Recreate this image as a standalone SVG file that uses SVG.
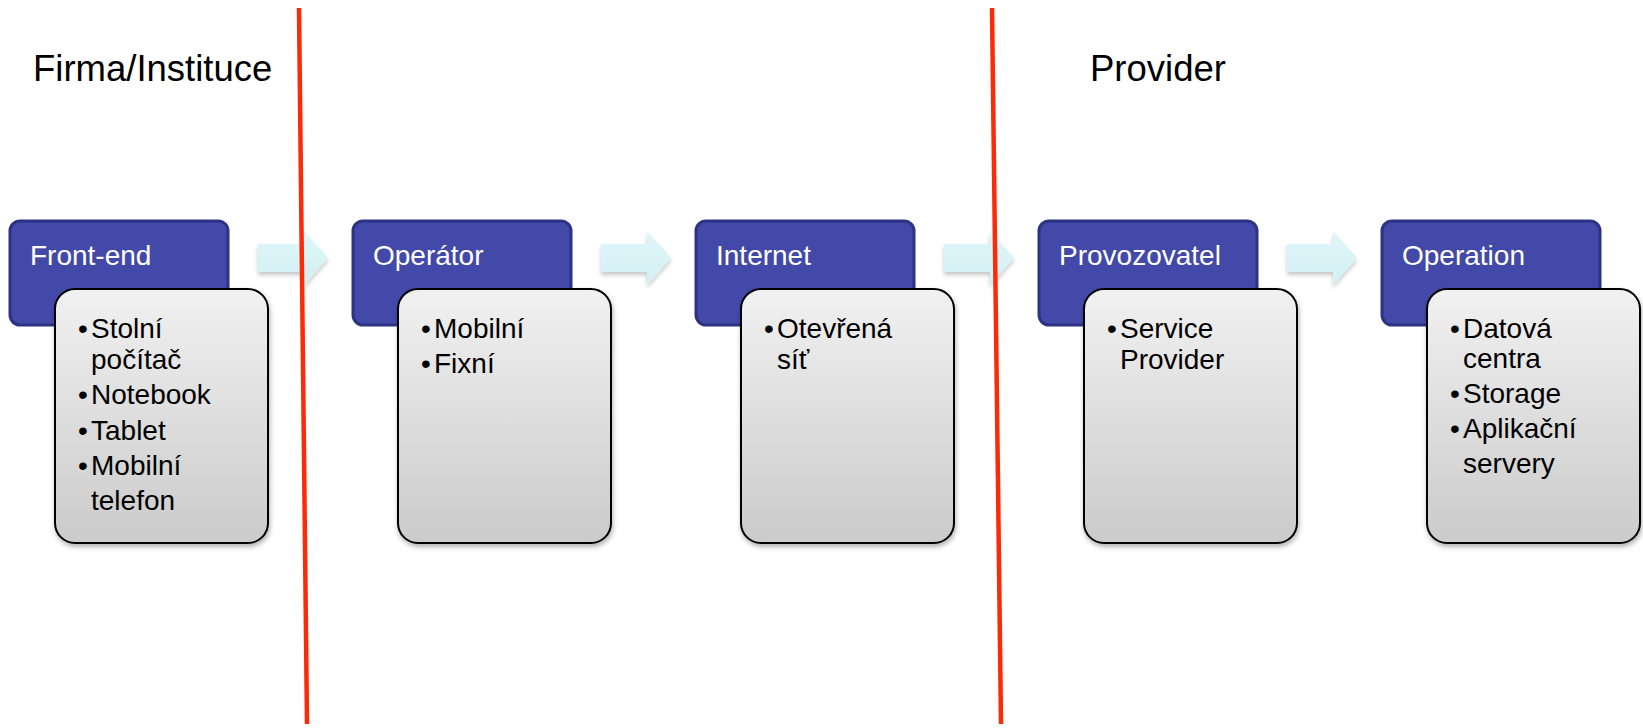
<svg xmlns="http://www.w3.org/2000/svg" width="1643" height="728" viewBox="0 0 1643 728">
<defs>
<linearGradient id="gray" x1="0" y1="0" x2="0" y2="1">
<stop offset="0" stop-color="#f1f1f1"/>
<stop offset="1" stop-color="#cbcbcb"/>
</linearGradient>
<linearGradient id="cyan" x1="0" y1="0" x2="0" y2="1">
<stop offset="0" stop-color="#dff6f9"/>
<stop offset="1" stop-color="#d3f0f4"/>
</linearGradient>
<filter id="sh" x="-20%" y="-20%" width="140%" height="140%">
<feDropShadow dx="1" dy="3" stdDeviation="2.5" flood-color="#000" flood-opacity="0.3"/>
</filter>
<filter id="ash" x="-20%" y="-30%" width="140%" height="160%">
<feDropShadow dx="0" dy="3" stdDeviation="2" flood-color="#000" flood-opacity="0.22"/>
</filter>
<path id="arr" d="M0,244 H46 V231 L70,258 L46,285 V272 H0 Z"/>
</defs>
<style>
.blue{fill:#4349a8;stroke:#2c3284;stroke-width:3}
.gray{fill:url(#gray);stroke:#000;stroke-width:2;filter:url(#sh)}
.bt{font-family:"Liberation Sans",Arial,sans-serif;font-size:28px;fill:#fff}
.gt{font-family:"Liberation Sans",Arial,sans-serif;font-size:28px;fill:#000}
.title{font-family:"Liberation Sans",Arial,sans-serif;font-size:36.5px;fill:#000}
.arrow{fill:url(#cyan);filter:url(#ash)}
.sep{stroke:#fd2a07;stroke-width:4.5;stroke-linecap:butt}
</style>
<rect width="1643" height="728" fill="#fff"/>
<text class="title" x="33" y="81">Firma/Instituce</text>
<text class="title" x="1090" y="81">Provider</text>

<g id="connectors">
<use href="#arr" class="arrow" x="258"/>
<use href="#arr" class="arrow" x="601"/>
<use href="#arr" class="arrow" x="944"/>
<use href="#arr" class="arrow" x="1287"/>
</g>

<g id="node-frontend">
<rect class="blue" x="10" y="221" width="218" height="104" rx="10"/>
<text class="bt" x="30" y="265">Front-end</text>
<rect class="gray" x="55" y="289" width="213" height="254" rx="20"/>
<text class="gt" x="78" y="338">•</text><text class="gt" x="91" y="338">Stolní</text>
<text class="gt" x="91" y="369">počítač</text>
<text class="gt" x="78" y="404">•</text><text class="gt" x="91" y="404">Notebook</text>
<text class="gt" x="78" y="440">•</text><text class="gt" x="91" y="440">Tablet</text>
<text class="gt" x="78" y="475">•</text><text class="gt" x="91" y="475">Mobilní</text>
<text class="gt" x="91" y="510">telefon</text>
</g>

<g id="node-operator">
<rect class="blue" x="353" y="221" width="218" height="104" rx="10"/>
<text class="bt" x="373" y="265">Operátor</text>
<rect class="gray" x="398" y="289" width="213" height="254" rx="20"/>
<text class="gt" x="421" y="338">•</text><text class="gt" x="434" y="338">Mobilní</text>
<text class="gt" x="421" y="373">•</text><text class="gt" x="434" y="373">Fixní</text>
</g>

<g id="node-internet">
<rect class="blue" x="696" y="221" width="218" height="104" rx="10"/>
<text class="bt" x="716" y="265">Internet</text>
<rect class="gray" x="741" y="289" width="213" height="254" rx="20"/>
<text class="gt" x="764" y="338">•</text><text class="gt" x="777" y="338">Otevřená</text>
<text class="gt" x="777" y="369">síť</text>
</g>

<g id="node-provozovatel">
<rect class="blue" x="1039" y="221" width="218" height="104" rx="10"/>
<text class="bt" x="1059" y="265">Provozovatel</text>
<rect class="gray" x="1084" y="289" width="213" height="254" rx="20"/>
<text class="gt" x="1107" y="338">•</text><text class="gt" x="1120" y="338">Service</text>
<text class="gt" x="1120" y="369">Provider</text>
</g>

<g id="node-operation">
<rect class="blue" x="1382" y="221" width="218" height="104" rx="10"/>
<text class="bt" x="1402" y="265">Operation</text>
<rect class="gray" x="1427" y="289" width="213" height="254" rx="20"/>
<text class="gt" x="1450" y="338">•</text><text class="gt" x="1463" y="338">Datová</text>
<text class="gt" x="1463" y="368">centra</text>
<text class="gt" x="1450" y="403">•</text><text class="gt" x="1463" y="403">Storage</text>
<text class="gt" x="1450" y="438">•</text><text class="gt" x="1463" y="438">Aplikační</text>
<text class="gt" x="1463" y="473">servery</text>
</g>

<g id="separators">
<line class="sep" x1="299" y1="8" x2="307" y2="724"/>
<line class="sep" x1="992" y1="8" x2="1001" y2="724"/>
</g>
</svg>
